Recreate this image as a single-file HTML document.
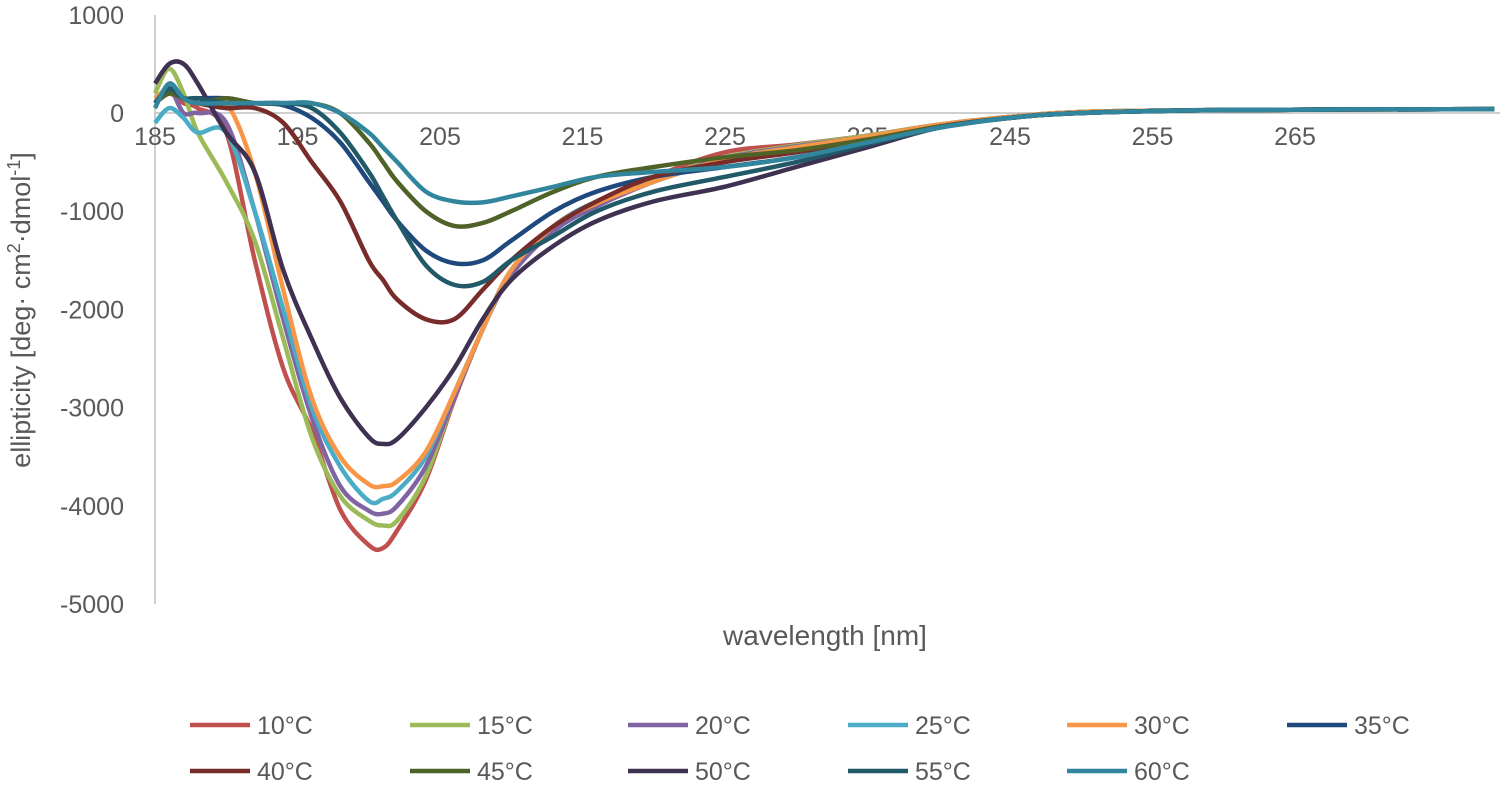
<!DOCTYPE html>
<html><head><meta charset="utf-8">
<style>
body{margin:0;background:#fff;width:1505px;height:798px;overflow:hidden;font-family:"Liberation Sans",sans-serif;}
svg text{font-family:"Liberation Sans",sans-serif;fill:#595959;}
</style></head>
<body>
<svg id="chart" width="1505" height="798" xmlns="http://www.w3.org/2000/svg"></svg>
<script>
const wavelengths=[185,186,187,188,190,192,194,196,198,200,201,202,204,206,208,210,213,216,220,225,230,235,240,245,250,260,279];
const s10=[100,200,100,50,-200,-1500,-2600,-3230,-4040,-4400,-4430,-4250,-3740,-2920,-2200,-1600,-1150,-900,-650,-400,-320,-230,-120,-40,10,30,40];
const s15=[200,450,200,-200,-700,-1300,-2300,-3300,-3900,-4150,-4200,-4150,-3700,-2900,-2200,-1600,-1150,-900,-680,-450,-330,-230,-120,-40,10,30,40];
const s20=[100,250,0,0,-100,-1000,-2100,-3100,-3800,-4050,-4080,-4000,-3600,-2900,-2200,-1650,-1200,-950,-700,-460,-340,-240,-120,-40,10,30,40];
const s25=[-100,50,-50,-200,-200,-1000,-2000,-3000,-3600,-3950,-3930,-3850,-3500,-2850,-2200,-1600,-1150,-900,-700,-470,-350,-240,-120,-40,10,30,40];
const s30=[150,250,150,100,100,-600,-1800,-2900,-3500,-3780,-3800,-3750,-3450,-2850,-2200,-1600,-1150,-920,-700,-470,-350,-240,-120,-40,10,30,40];
const s35=[100,250,150,150,150,100,80,-50,-300,-700,-900,-1100,-1400,-1530,-1500,-1300,-1000,-800,-650,-550,-450,-300,-150,-50,0,30,40];
const s40=[100,200,150,100,50,50,-100,-500,-900,-1500,-1700,-1900,-2100,-2100,-1800,-1500,-1150,-900,-650,-500,-400,-280,-140,-50,0,30,40];
const s45=[100,200,150,100,150,100,100,100,0,-300,-500,-700,-1000,-1150,-1120,-1000,-800,-650,-550,-450,-380,-270,-140,-50,0,30,40];
const s50=[300,500,500,300,-200,-600,-1600,-2300,-2900,-3300,-3370,-3320,-3000,-2600,-2100,-1700,-1350,-1100,-900,-750,-550,-350,-150,-50,0,30,40];
const s55=[100,250,150,150,100,100,100,50,-200,-600,-850,-1100,-1550,-1750,-1720,-1500,-1250,-1000,-800,-650,-500,-320,-150,-50,0,30,40];
const s60=[50,300,150,100,100,100,100,100,0,-200,-350,-500,-800,-900,-910,-850,-750,-650,-600,-550,-450,-300,-150,-50,0,30,40];
const seriesNames=["10°C","15°C","20°C","25°C","30°C","35°C","40°C","45°C","50°C","55°C","60°C"];
const seriesData=[s10,s15,s20,s25,s30,s35,s40,s45,s50,s55,s60];
const colors=["#c0504d","#9bbb59","#8064a2","#4bacc6","#f79646","#1f497d","#772c2a","#4f6228","#3f3151","#215968","#31859c"];
const xTicks=[185,195,205,215,225,235,245,255,265];
const yTicks=[1000,0,-1000,-2000,-3000,-4000,-5000];

const NS="http://www.w3.org/2000/svg";
const svg=document.getElementById('chart');
const X=v=>155+14.25*(v-185);
const Y=v=>113-0.0982*v;
function el(t,a){const e=document.createElementNS(NS,t);for(const k in a)e.setAttribute(k,a[k]);svg.appendChild(e);return e;}

const ya=el('line',{x1:155,y1:15,x2:155,y2:604,stroke:'#bfbfbf','stroke-width':1.5});


const xa=el('line',{x1:155,y1:Y(0),x2:1500,y2:Y(0),stroke:'#bfbfbf','stroke-width':1.5});



yTicks.forEach(v=>{const t=el('text',{x:124,y:Y(v)+9,'font-size':25,'text-anchor':'end'});t.textContent=v;

});
xTicks.forEach(v=>{const t=el('text',{x:X(v),y:145,'font-size':25,'text-anchor':'middle'});t.textContent=v;

});

const xt=el('text',{x:825,y:645,'font-size':28,'text-anchor':'middle'});xt.textContent='wavelength [nm]';


const yt=el('text',{x:0,y:0,'font-size':27,'text-anchor':'middle',transform:'translate(30,310) rotate(-90)'});
yt.innerHTML='ellipticity [deg· cm<tspan dy="-10" font-size="18">2</tspan><tspan dy="10">·dmol</tspan><tspan dy="-10" font-size="18">-1</tspan><tspan dy="10">]</tspan>';



function path(vals){
  const p=wavelengths.map((w,i)=>[X(w),Y(vals[i])]);
  let d='M'+p[0][0]+','+p[0][1];
  for(let i=0;i<p.length-1;i++){
    const p0=p[Math.max(0,i-1)],p1=p[i],p2=p[i+1],p3=p[Math.min(p.length-1,i+2)];
    const c1=[p1[0]+(p2[0]-p0[0])/6,p1[1]+(p2[1]-p0[1])/6];
    const c2=[p2[0]-(p3[0]-p1[0])/6,p2[1]-(p3[1]-p1[1])/6];
    d+=`C${c1[0]},${c1[1]} ${c2[0]},${c2[1]} ${p2[0]},${p2[1]}`;
  }
  return d;
}
seriesData.forEach((vals,i)=>{
  const l=el('path',{d:path(vals),fill:'none',stroke:colors[i],'stroke-width':4.5,'stroke-linejoin':'round'});
  
  
});

const legX=[190,410,628,848,1067,1287];
seriesNames.forEach((n,i)=>{
  const r=Math.floor(i/6),c=i%6,y=r?771:725,x=legX[c];
  const g=el('g',{});
  
  
  const ln=document.createElementNS(NS,'line');
  ln.setAttribute('x1',x);ln.setAttribute('x2',x+60);ln.setAttribute('y1',y);ln.setAttribute('y2',y);
  ln.setAttribute('stroke',colors[i]);ln.setAttribute('stroke-width',4.5);
  g.appendChild(ln);
  const t=document.createElementNS(NS,'text');
  t.setAttribute('x',x+67);t.setAttribute('y',y+9);t.setAttribute('font-size',25);t.textContent=n;
  g.appendChild(t);
});
</script>
</body></html>
